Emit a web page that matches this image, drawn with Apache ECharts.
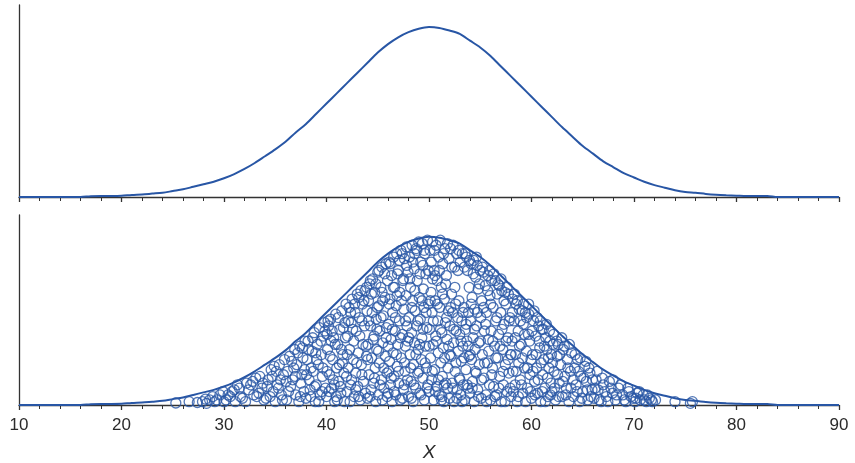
<!DOCTYPE html>
<html>
<head>
<meta charset="utf-8">
<script src="https://cdn.jsdelivr.net/npm/echarts@6/dist/echarts.min.js"></script>
<style>
  html, body { margin: 0; padding: 0; background: #fff; }
  #chart { width: 855px; height: 463px; }
</style>
</head>
<body>
<div id="chart"></div>
<script>
// curve heights, x = 10..90 step 1 (peak scaled to 1)
const curveX = [10,11,12,13,14,15,16,17,18,19,20,21,22,23,24,25,26,27,28,29,30,31,32,33,34,35,36,37,38,39,40,41,42,43,44,45,46,47,48,49,50,51,52,53,54,55,56,57,58,59,60,61,62,63,64,65,66,67,68,69,70,71,72,73,74,75,76,77,78,79,80,81,82,83,84,85,86,87,88,89,90];
const curveY = [0,0,0,0,0,0,0,0.005,0.006,0.006,0.007,0.012,0.015,0.02,0.025,0.035,0.045,0.06,0.075,0.09,0.11,0.135,0.165,0.2,0.24,0.28,0.325,0.38,0.43,0.49,0.55,0.61,0.67,0.73,0.79,0.85,0.9,0.94,0.97,0.99,1,0.995,0.98,0.96,0.92,0.88,0.83,0.77,0.71,0.65,0.59,0.53,0.47,0.41,0.355,0.3,0.255,0.21,0.175,0.14,0.115,0.09,0.07,0.055,0.04,0.03,0.025,0.018,0.013,0.01,0.008,0.006,0.006,0.006,0,0,0,0,0,0,0];

// sample points under the curve
const samples = [
  [25.3,.012],[26.6,.02],
  [27.9,.02],[28.2,.035],[27.4,.015],
  [28.3,.01],[28.6,.03],[29.1,.02],[28.9,.05],[29.6,.06],
  [29.3,.03],[29.9,.08],[30.4,.06],[31.0,.09],[31.6,.05],[32.2,.13],[32.9,.06],[30.0,.02],
  [30.2,.03],[30.8,.08],[31.1,.02],[31.5,.1],[30.6,.05],[31.8,.04],[31.3,.12],
  [32.1,.02],[32.4,.09],[32.8,.14],[33.2,.05],[33.5,.17],[33.9,.03],[32.6,.12],[33.7,.1],[33.1,.16],
  [33.4,.07],[34.2,.11],[34.7,.17],[35.1,.2],[35.5,.15],[35.7,.03],[33.8,.13],[34.5,.05],
  [34.1,.04],[34.3,.15],[34.6,.21],[34.8,.08],[35.0,.02],[35.2,.12],[35.4,.24],[35.6,.06],[35.8,.18],[34.9,.23],[35.3,.1],[35.9,.27],
  [36.1,.03],[36.2,.2],[36.4,.29],[36.5,.11],[36.7,.15],[36.9,.33],[37.0,.06],[37.1,.24],[37.3,.02],[37.4,.35],[37.5,.13],[37.7,.28],[37.8,.08],[37.9,.38],[36.8,.22],[37.6,.18],
  [36.3,.08],[36.6,.26],[36.95,.17],[37.2,.31],[37.45,.05],[37.85,.21],[36.05,.14],[37.65,.34],
  [38.0,.04],[38.1,.27],[38.2,.38],[38.3,.15],[38.4,.09],[38.6,.32],[38.7,.2],[38.8,.43],[38.9,.02],[39.0,.12],[39.1,.36],[39.2,.24],[39.3,.46],[39.4,.06],[39.5,.3],[39.6,.17],[39.7,.41],[39.8,.49],[39.9,.1],[38.5,.22],
  [38.05,.18],[38.25,.33],[38.45,.05],[38.65,.4],[38.85,.11],[39.05,.27],[39.25,.02],[39.45,.38],[39.65,.22],[39.85,.44],[38.95,.31],[39.55,.08],
  [40.0,.05],[40.1,.33],[40.2,.47],[40.3,.18],[40.4,.51],[40.5,.1],[40.6,.27],[40.7,.4],[40.8,.02],[40.9,.54],[41.0,.22],[41.1,.36],[41.2,.14],[41.3,.45],[41.4,.07],[41.5,.56],[41.6,.3],[41.7,.19],[41.8,.49],[41.9,.6],[40.45,.38],[41.05,.03],[41.55,.25],[40.75,.12],[41.85,.4],
  [40.05,.2],[40.15,.5],[40.25,.08],[40.35,.29],[40.55,.44],[40.65,.15],[40.85,.36],[40.95,.05],[41.15,.52],[41.25,.24],[41.35,.11],[41.45,.33],[41.65,.46],[41.75,.02],[41.95,.17],[40.05,.42],
  [42.0,.08],[42.05,.41],[42.1,.22],[42.2,.58],[42.25,.33],[42.3,.02],[42.4,.49],[42.45,.15],[42.5,.63],[42.6,.27],[42.65,.38],[42.7,.05],[42.8,.55],[42.85,.19],[42.9,.44],[43.0,.66],[43.05,.11],[43.1,.31],[43.2,.52],[43.3,.03],[43.35,.68],[43.4,.24],[43.5,.6],[43.55,.36],[43.6,.14],[43.7,.47],[43.75,.68],[43.8,.07],[43.9,.29],[43.95,.56],
  [42.02,.3],[42.15,.5],[42.35,.12],[42.55,.45],[42.75,.6],[42.95,.25],[43.15,.05],[43.25,.41],[43.45,.18],[43.65,.62],[43.85,.35],[43.15,.64],[42.35,.55],[43.45,.5],[42.85,.09],[43.92,.7],
  [44.0,.04],[44.05,.36],[44.1,.62],[44.15,.18],[44.2,.72],[44.3,.47],[44.35,.09],[44.4,.28],[44.45,.55],[44.5,.75],[44.6,.13],[44.65,.41],[44.7,.67],[44.75,.22],[44.8,.02],[44.85,.51],[44.9,.33],[45.0,.79],[45.05,.06],[45.1,.59],[45.15,.25],[45.2,.44],[45.3,.7],[45.35,.15],[45.4,.82],[45.5,.37],[45.55,.53],[45.6,.1],[45.7,.64],[45.75,.29],[45.8,.84],[45.85,.46],[45.9,.19],[45.95,.74],[45.45,.03],
  [44.02,.27],[44.12,.5],[44.25,.05],[44.38,.66],[44.55,.39],[44.68,.16],[44.82,.72],[44.95,.58],[45.08,.32],[45.22,.12],[45.32,.52],[45.42,.67],[45.58,.22],[45.68,.78],[45.82,.4],[45.92,.05],[44.28,.74],[45.12,.8],[44.92,.45],[45.48,.62],
  [46.0,.07],[46.05,.48],[46.1,.85],[46.15,.26],[46.2,.63],[46.25,.12],[46.3,.39],[46.35,.77],[46.4,.02],[46.45,.55],[46.5,.31],[46.55,.88],[46.6,.17],[46.65,.7],[46.7,.44],[46.75,.06],[46.8,.59],[46.85,.9],[46.9,.23],[46.95,.36],[47.0,.8],[47.05,.13],[47.1,.5],[47.15,.67],[47.2,.03],[47.25,.92],[47.3,.28],[47.4,.42],[47.45,.74],[47.5,.09],[47.55,.57],[47.6,.87],[47.65,.2],[47.7,.35],[47.75,.65],[47.8,.94],[47.85,.47],[47.9,.15],[47.95,.79],
  [46.02,.35],[46.12,.6],[46.22,.84],[46.32,.16],[46.42,.45],[46.52,.7],[46.62,.08],[46.72,.52],[46.82,.3],[46.92,.78],[47.02,.2],[47.12,.86],[47.22,.4],[47.32,.62],[47.42,.04],[47.52,.75],[47.62,.25],[47.72,.5],[47.82,.83],[47.92,.38],[46.08,.2],[46.88,.65],[47.38,.9],[47.58,.12],
  [48.0,.05],[48.05,.52],[48.1,.88],[48.15,.3],[48.2,.7],[48.25,.14],[48.3,.43],[48.35,.95],[48.4,.62],[48.45,.02],[48.5,.24],[48.55,.81],[48.6,.37],[48.65,.56],[48.7,.1],[48.75,.93],[48.8,.47],[48.85,.74],[48.9,.19],[48.95,.33],[49.0,.97],[49.05,.64],[49.1,.07],[49.15,.51],[49.2,.85],[49.25,.27],[49.3,.4],[49.35,.96],[49.4,.16],[49.45,.69],[49.5,.58],[49.55,.03],[49.6,.9],[49.65,.35],[49.7,.78],[49.75,.22],[49.8,.46],[49.85,.98],[49.9,.12],[49.95,.6],[49.4,.83],[48.6,.9],
  [48.02,.4],[48.12,.75],[48.22,.22],[48.32,.58],[48.42,.85],[48.52,.12],[48.62,.68],[48.72,.3],[48.82,.92],[48.92,.5],[49.02,.2],[49.12,.78],[49.22,.06],[49.32,.62],[49.42,.45],[49.52,.92],[49.62,.25],[49.72,.55],[49.82,.1],[49.92,.8],[48.28,.04],[49.08,.36],
  [50.0,.08],[50.05,.45],[50.1,.92],[50.15,.28],[50.2,.67],[50.25,.15],[50.3,.55],[50.35,.97],[50.4,.36],[50.45,.03],[50.5,.8],[50.55,.21],[50.6,.62],[50.65,.41],[50.7,.95],[50.75,.11],[50.8,.74],[50.85,.5],[50.9,.31],[50.95,.88],[51.0,.06],[51.05,.58],[51.1,.98],[51.15,.25],[51.2,.7],[51.25,.43],[51.3,.17],[51.35,.84],[51.4,.34],[51.45,.02],[51.5,.63],[51.55,.93],[51.6,.49],[51.65,.13],[51.7,.77],[51.75,.39],[51.8,.96],[51.85,.22],[51.9,.56],[51.95,.87],[50.35,.75],[51.25,.05],
  [50.02,.35],[50.12,.62],[50.22,.85],[50.32,.2],[50.42,.5],[50.52,.92],[50.62,.08],[50.72,.38],[50.82,.6],[50.92,.15],[51.02,.8],[51.12,.45],[51.22,.03],[51.32,.66],[51.42,.9],[51.52,.28],[51.62,.72],[51.72,.52],[51.82,.1],[51.92,.35],[50.58,.77],[51.48,.12],
  [52.0,.04],[52.05,.47],[52.1,.93],[52.15,.29],[52.2,.66],[52.25,.13],[52.3,.55],[52.35,.95],[52.4,.37],[52.45,.02],[52.5,.82],[52.55,.2],[52.6,.6],[52.65,.44],[52.7,.9],[52.75,.09],[52.8,.52],[52.85,.32],[52.9,.92],[52.95,.16],[53.0,.42],[53.05,.85],[53.1,.06],[53.15,.26],[53.2,.5],[53.25,.9],[53.3,.35],[53.35,.12],[53.4,.58],[53.45,.82],[53.5,.03],[53.55,.45],[53.6,.21],[53.65,.88],[53.7,.38],[53.75,.8],[53.8,.1],[53.85,.55],[53.9,.29],[53.95,.86],
  [52.02,.3],[52.12,.58],[52.22,.82],[52.32,.1],[52.42,.45],[52.52,.7],[52.62,.25],[52.72,.04],[52.82,.8],[52.92,.62],[53.02,.15],[53.12,.38],[53.22,.02],[53.32,.55],[53.42,.28],[53.52,.9],[53.62,.48],[53.72,.12],[53.82,.35],[53.92,.7],
  [54.0,.07],[54.05,.5],[54.1,.84],[54.15,.27],[54.2,.64],[54.25,.14],[54.3,.4],[54.35,.86],[54.4,.02],[54.45,.57],[54.5,.33],[54.55,.76],[54.6,.19],[54.65,.47],[54.7,.83],[54.75,.09],[54.8,.69],[54.85,.37],[54.9,.24],[55.0,.8],[55.05,.52],[55.1,.04],[55.15,.62],[55.2,.3],[55.3,.79],[55.35,.16],[55.4,.44],[55.5,.71],[55.55,.06],[55.6,.55],[55.7,.25],[55.75,.77],[55.8,.39],[55.9,.12],[55.95,.65],
  [54.02,.3],[54.12,.6],[54.22,.1],[54.32,.78],[54.42,.45],[54.52,.2],[54.62,.88],[54.72,.55],[54.82,.05],[54.92,.72],[55.02,.38],[55.12,.15],[55.22,.82],[55.32,.58],[55.42,.25],[55.52,.48],[55.62,.02],[55.72,.68],[55.82,.32],[55.92,.8],
  [56.0,.03],[56.05,.44],[56.1,.74],[56.2,.22],[56.25,.58],[56.3,.11],[56.4,.35],[56.45,.74],[56.5,.5],[56.6,.06],[56.65,.66],[56.7,.28],[56.8,.42],[56.85,.71],[56.9,.17],[57.0,.55],[57.05,.02],[57.1,.68],[57.2,.33],[57.25,.12],[57.3,.48],[57.4,.67],[57.45,.24],[57.5,.6],[57.6,.08],[57.7,.4],[57.75,.66],[57.8,.19],[57.9,.52],[57.95,.3],
  [56.02,.6],[56.12,.18],[56.22,.38],[56.32,.78],[56.42,.05],[56.52,.28],[56.62,.52],[56.72,.72],[56.82,.1],[56.92,.35],[57.02,.75],[57.12,.45],[57.22,.2],[57.32,.62],[57.42,.02],[57.52,.38],[57.62,.7],[57.72,.27],[57.82,.5],[57.92,.1],
  [58.0,.05],[58.1,.38],[58.15,.63],[58.2,.2],[58.3,.5],[58.4,.12],[58.45,.3],[58.5,.6],[58.6,.02],[58.7,.44],[58.75,.25],[58.8,.57],[58.9,.15],[59.0,.36],[59.1,.56],[59.15,.07],[59.2,.48],[59.3,.22],[59.4,.55],[59.5,.32],[59.6,.1],[59.7,.42],[59.75,.54],[59.85,.18],[59.95,.27],
  [58.02,.3],[58.12,.55],[58.22,.08],[58.32,.66],[58.42,.4],[58.52,.2],[58.62,.62],[58.72,.05],[58.82,.35],[58.92,.5],[59.02,.12],[59.12,.28],[59.22,.6],[59.32,.42],[59.42,.02],[59.52,.52],[59.62,.22],[59.72,.6],[59.82,.38],[59.92,.08],
  [60.0,.04],[60.1,.3],[60.2,.5],[60.3,.14],[60.4,.41],[60.5,.22],[60.6,.07],[60.7,.47],[60.8,.34],[60.9,.02],[61.0,.45],[61.1,.18],[61.2,.27],[61.3,.1],[61.4,.4],[61.5,.33],[61.6,.05],[61.7,.22],[61.8,.38],[61.9,.13],
  [60.05,.44],[60.15,.2],[60.25,.56],[60.35,.06],[60.45,.3],[60.55,.52],[60.65,.15],[60.75,.38],[60.85,.5],[60.95,.25],[61.05,.08],[61.15,.45],[61.25,.35],[61.35,.02],[61.45,.48],[61.55,.16],[61.65,.28],[61.75,.44],[61.85,.06],[61.95,.3],
  [62.0,.08],[62.1,.36],[62.2,.2],[62.35,.03],[62.5,.29],[62.6,.36],[62.7,.13],[62.85,.24],[63.0,.05],[63.1,.33],[63.25,.17],[63.4,.1],[63.5,.27],[63.65,.02],[63.8,.2],[63.9,.31],
  [62.05,.25],[62.15,.42],[62.25,.1],[62.45,.38],[62.55,.18],[62.65,.05],[62.75,.3],[62.95,.4],[63.05,.14],[63.2,.35],[63.35,.06],[63.55,.22],[63.7,.36],[63.85,.1],
  [64.1,.05],[64.2,.22],[64.35,.12],[64.5,.27],[64.7,.02],[64.8,.17],[65.0,.08],[65.2,.23],[65.35,.14],[65.5,.03],[65.7,.19],[65.9,.09],
  [64.05,.15],[64.25,.3],[64.45,.08],[64.6,.2],[64.75,.28],[64.9,.04],[65.1,.16],[65.3,.26],[65.45,.09],[65.6,.22],[65.8,.05],[65.95,.15],
  [66.1,.04],[66.3,.15],[66.5,.09],[66.8,.02],[67.0,.12],[67.3,.05],[67.6,.14],[67.9,.07],
  [66.2,.1],[66.4,.2],[66.6,.03],[66.9,.16],[67.15,.08],[67.45,.02],[67.75,.1],[67.95,.15],
  [68.2,.03],[68.5,.1],[68.9,.06],[69.2,.02],[69.5,.08],[69.9,.04],
  [68.3,.06],[68.7,.12],[69.05,.03],[69.4,.1],[69.7,.05],[70.2,.04],[70.5,.08],[71.0,.03],[71.3,.06],[71.7,.03],
  [70.1,.02],[70.3,.07],[70.6,.03],[70.9,.06],[71.2,.02],[71.5,.04],[71.8,.02],
  [72.1,.03],[74.0,.02],[75.5,.01],[75.7,.02]
];

const xTicks = [10, 20, 30, 40, 50, 60, 70, 80, 90];

const blue = '#2856a5';
const axisColor = '#333';
const curve = curveX.map((x, i) => [x, curveY[i]]);

function makeXAxis(idx, showLabel) {
  return {
    type: 'value',
    gridIndex: idx,
    min: xTicks[0],
    max: xTicks[xTicks.length - 1],
    interval: 10,
    axisLine: { show: true, onZero: false, lineStyle: { color: axisColor, width: 1.3 } },
    axisTick: { show: true, length: 5, lineStyle: { color: axisColor, width: 1.3 } },
    minorTick: { show: true, splitNumber: 5, length: 4, lineStyle: { color: axisColor, width: 1 } },
    splitLine: { show: false },
    axisLabel: {
      show: showLabel, margin: 12, fontSize: 17, color: '#2b2b2b',
      fontFamily: 'Liberation Sans, Arial, sans-serif'
    },
    name: showLabel ? 'X' : '',
    nameLocation: 'middle',
    nameGap: 38,
    nameTextStyle: {
      fontSize: 19, fontStyle: 'italic', color: '#2b2b2b',
      fontFamily: 'Liberation Sans, Arial, sans-serif'
    }
  };
}

function makeYAxis(idx) {
  return {
    type: 'value',
    gridIndex: idx,
    min: 0,
    max: 1.13,
    axisLine: { show: true, lineStyle: { color: axisColor, width: 1.3 } },
    axisTick: { show: false },
    axisLabel: { show: false },
    splitLine: { show: false }
  };
}

const chart = echarts.init(document.getElementById('chart'), null, { renderer: 'canvas' });
chart.setOption({
  animation: false,
  backgroundColor: '#fff',
  grid: [
    { left: 19, right: 16, top: 5, height: 192 },
    { left: 19, right: 16, top: 215, height: 190 }
  ],
  xAxis: [makeXAxis(0, false), makeXAxis(1, true)],
  yAxis: [makeYAxis(0), makeYAxis(1)],
  series: [
    {
      type: 'line', xAxisIndex: 0, yAxisIndex: 0, data: curve,
      showSymbol: false, smooth: 0.3, z: 5,
      lineStyle: { color: blue, width: 2 }
    },
    {
      type: 'scatter', xAxisIndex: 1, yAxisIndex: 1, data: samples,
      symbol: 'circle', symbolSize: 10, z: 3,
      itemStyle: { color: 'rgba(0,0,0,0)', borderColor: blue, borderWidth: 1.3 }
    },
    {
      type: 'line', xAxisIndex: 1, yAxisIndex: 1, data: curve,
      showSymbol: false, smooth: 0.3, z: 5,
      lineStyle: { color: blue, width: 2 }
    }
  ]
});
</script>
</body>
</html>
